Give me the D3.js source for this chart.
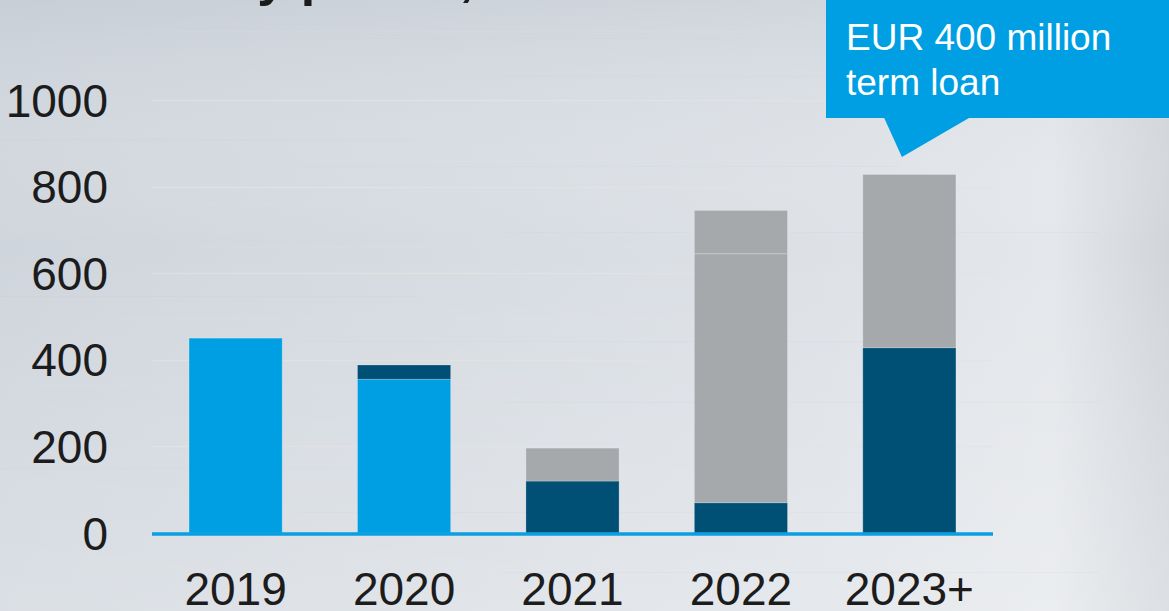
<!DOCTYPE html>
<html>
<head>
<meta charset="utf-8">
<script src="https://cdn.jsdelivr.net/npm/d3@7"></script>
<style>
  html, body { margin: 0; padding: 0; overflow: hidden; }
  body { width: 1169px; height: 611px; }
  svg { display: block; font-family: "Liberation Sans", Arial, sans-serif; }
</style>
</head>
<body>
<svg id="chart" width="1169" height="611"></svg>
<script>
// Maturity profile (EUR million)
const years     = ["2019", "2020", "2021", "2022", "2023+"];
const bonds     = [450, 355, 0, 0, 0];      // light blue
const loans     = [0, 33, 120, 70, 428];    // dark blue
const creditA   = [0, 0, 76, 575, 400];     // grey
const creditB   = [0, 0, 0, 100, 0];        // grey, upper block
const yTicks    = [0, 200, 400, 600, 800, 1000];
const titleText = "Maturity profile, EUR million";
const calloutLines = ["EUR 400 million", "term loan"];

const seriesKeys   = ["bonds", "loans", "creditA", "creditB"];
const seriesColors = { bonds: "#009fe3", loans: "#005076", creditA: "#a6a9ac", creditB: "#a6a9ac" };

const rows = years.map((y, i) => ({
  year: y, bonds: bonds[i], loans: loans[i], creditA: creditA[i], creditB: creditB[i]
}));

const svg = d3.select("#chart");
const W = 1169, H = 611;

// brushed-metal backdrop
const defs = svg.append("defs");
const gH = defs.append("linearGradient").attr("id", "bgH").attr("x1", 0).attr("x2", 1).attr("y1", 0).attr("y2", 0);
[[0, "#cfd5dc"], [0.35, "#d6dbe1"], [0.7, "#dde1e6"], [0.9, "#e4e7eb"], [1, "#d1d5da"]]
  .forEach(([o, c]) => gH.append("stop").attr("offset", o).attr("stop-color", c));
const gV = defs.append("linearGradient").attr("id", "bgV").attr("x1", 0).attr("x2", 0).attr("y1", 0).attr("y2", 1);
[[0, "#b9c2cc", 0.35], [0.4, "#ffffff", 0], [1, "#ffffff", 0.25]]
  .forEach(([o, c, a]) => gV.append("stop").attr("offset", o).attr("stop-color", c).attr("stop-opacity", a));

svg.append("rect").attr("width", W).attr("height", H).attr("fill", "url(#bgH)");
svg.append("rect").attr("width", W).attr("height", H).attr("fill", "url(#bgV)");

// faint horizontal brush streaks
const streaks = svg.append("g").attr("opacity", 0.35);
const streakRows = [14, 31, 38, 57, 76, 121, 139, 148, 166, 204, 232, 247, 296, 318, 341, 384, 402, 421, 468, 489, 512, 556, 572, 590];
const streakSpans = [[0, 420], [120, 760], [300, 900], [40, 520], [500, 1100], [200, 640]];
streakRows.forEach((yy, i) => {
  const s = streakSpans[i % streakSpans.length];
  streaks.append("line")
    .attr("x1", s[0]).attr("x2", s[1]).attr("y1", yy + 0.5).attr("y2", yy + 0.5)
    .attr("stroke", i % 2 ? "#eef0f2" : "#b8c0c8")
    .attr("stroke-opacity", i % 2 ? 0.3 : 0.25)
    .attr("stroke-width", 1);
});

// title (sits mostly above the visible area)
svg.append("text")
  .attr("x", 84).attr("y", -5)
  .attr("font-size", 52).attr("font-weight", "bold").attr("fill", "#1c1c1c")
  .text(titleText);

// scales
const x = d3.scaleBand().domain(years).range([152, 993]).paddingInner(0.447).paddingOuter(0.22);
const y = d3.scaleLinear().domain([0, 1000]).range([533, 100]);

// gridlines
svg.append("g").selectAll("line")
  .data(yTicks.filter(t => t > 0))
  .join("line")
  .attr("x1", 152).attr("x2", 993)
  .attr("y1", d => Math.round(y(d)) + 0.5).attr("y2", d => Math.round(y(d)) + 0.5)
  .attr("stroke", "#e2e3e4").attr("stroke-width", 1.5).attr("stroke-opacity", 0.7);

// y axis labels
const yAxis = d3.axisLeft(y).tickValues(yTicks).tickSize(0).tickPadding(0).tickFormat(d3.format("d"));
const yg = svg.append("g").attr("transform", "translate(108,0)").call(yAxis);
yg.select(".domain").remove();
yg.selectAll("text")
  .attr("font-family", "'Liberation Sans', Arial, sans-serif")
  .attr("font-size", 46).attr("fill", "#1c1c1c").attr("dy", "0.35em");

// stacked bars
const stack = d3.stack().keys(seriesKeys)(rows);
svg.append("g").selectAll("g")
  .data(stack)
  .join("g")
  .attr("fill", d => seriesColors[d.key])
  .selectAll("rect")
  .data(d => d.filter(p => p[1] - p[0] > 0))
  .join("rect")
  .attr("x", d => x(d.data.year))
  .attr("width", x.bandwidth())
  .attr("y", d => y(d[1]))
  .attr("height", d => y(d[0]) - y(d[1]))
  .attr("stroke", "#ffffff").attr("stroke-opacity", 0.22).attr("stroke-width", 1);

// baseline
svg.append("line")
  .attr("x1", 152).attr("x2", 993).attr("y1", y(0) + 1).attr("y2", y(0) + 1)
  .attr("stroke", "#0a9fe2").attr("stroke-width", 3.5);

// x axis labels
const xAxis = d3.axisBottom(x).tickSize(0).tickPadding(0);
const xg = svg.append("g").attr("transform", "translate(0,605)").call(xAxis);
xg.select(".domain").remove();
xg.selectAll("text")
  .attr("font-family", "'Liberation Sans', Arial, sans-serif")
  .attr("font-size", 46).attr("fill", "#1c1c1c").attr("dy", 0);

// callout for the term loan
const lastX = x("2023+");
const bw = x.bandwidth();
const boxBottom = 118;
svg.append("path")
  .attr("d", d3.line()([
    [826, -5], [W + 5, -5], [W + 5, boxBottom],
    [lastX + bw * 1.14, boxBottom], [lastX + bw * 0.42, 157], [lastX + bw * 0.23, boxBottom],
    [826, boxBottom]
  ]) + "Z")
  .attr("fill", "#009fe3");

svg.append("g").selectAll("text")
  .data(calloutLines)
  .join("text")
  .attr("x", 846).attr("y", (d, i) => 50 + i * 45)
  .attr("font-size", 37).attr("fill", "#ffffff")
  .text(d => d);
</script>
</body>
</html>
